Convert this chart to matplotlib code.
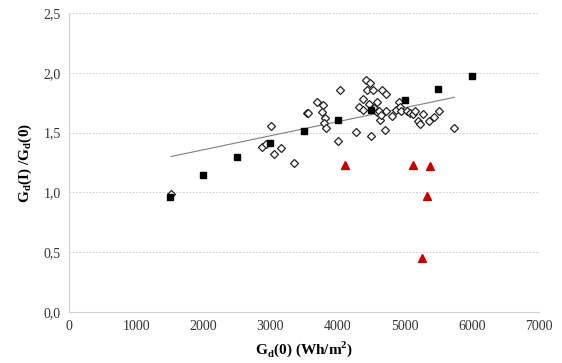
import numpy as np
import matplotlib
matplotlib.use("Agg")
import matplotlib.pyplot as plt
from matplotlib.ticker import FuncFormatter

# Datos leidos del grafico
# medias (cuadrados negros)
sq_x = [1500, 2000, 2500, 3000, 3500, 4000, 4500, 5000, 5500, 6000]
sq_y = [0.96, 1.145, 1.295, 1.41, 1.515, 1.605, 1.69, 1.77, 1.865, 1.975]

# dias individuales (rombos abiertos)
dia_x = [1520, 2880, 2940, 3015, 3058, 3155, 3346, 3550, 3562, 3700, 3780,
         3765, 3810, 3800, 3833, 4036, 4004, 4274, 4384, 4322, 4374, 4430,
         4483, 4446, 4523, 4498, 4587, 4657, 4718, 4702, 4634, 4721, 4473,
         4547, 4582, 4622, 4647, 4815, 4870, 4910, 4930, 4940, 5039, 5079,
         5129, 5159, 5268, 5193, 5223, 5357, 5436, 5516, 5734]
dia_y = [0.985, 1.38, 1.403, 1.555, 1.318, 1.372, 1.243, 1.662, 1.665, 1.753,
         1.731, 1.67, 1.62, 1.583, 1.542, 1.856, 1.428, 1.503, 1.782, 1.715,
         1.69, 1.937, 1.913, 1.852, 1.859, 1.472, 1.758, 1.856, 1.823, 1.518,
         1.605, 1.678, 1.737, 1.703, 1.672, 1.683, 1.647, 1.639, 1.689, 1.756,
         1.717, 1.68, 1.683, 1.667, 1.653, 1.683, 1.658, 1.594, 1.572, 1.60,
         1.628, 1.683, 1.538]

# valores atipicos (triangulos rojos)
tri_x = [4115, 5119, 5377, 5327, 5258]
tri_y = [1.23, 1.225, 1.22, 0.97, 0.45]

# linea de tendencia (extremos)
trend_x = [1520, 5740]
trend_y = [1.30, 1.795]

plt.rcParams["font.family"] = ["Liberation Serif", "DejaVu Serif"]
plt.rcParams["mathtext.fontset"] = "custom"
plt.rcParams["mathtext.rm"] = "Liberation Serif"
plt.rcParams["mathtext.bf"] = "Liberation Serif:bold"

fig = plt.figure(figsize=(5.62, 3.63), dpi=100)
ax = fig.add_axes([0.1228, 0.1405, 0.8362, 0.8237])

ax.plot(trend_x, trend_y, color="#7f7f7f", lw=0.8, zorder=2)
ax.plot(dia_x, dia_y, "D", ms=4.2, mfc="white", mec="#222222", mew=0.9,
        ls="none", zorder=3)
ax.plot(sq_x, sq_y, "s", ms=4.3, color="black", ls="none", zorder=4)
ax.plot(tri_x, tri_y, "^", ms=5.5, color="#c00000", ls="none", zorder=4)

ax.set_xlim(0, 7000)
ax.set_ylim(0, 2.5)
ax.set_xticks(np.arange(0, 7001, 1000))
ax.set_yticks(np.arange(0, 2.51, 0.5))
ax.yaxis.set_major_formatter(FuncFormatter(lambda v, p: f"{v:.1f}".replace(".", ",")))
ax.tick_params(length=0, labelsize=10, colors="#333333", pad=6)

ax.grid(axis="y", color="#c8c8c8", ls=(0, (2, 2)), lw=0.6)
ax.set_axisbelow(True)
for s in ["top", "right"]:
    ax.spines[s].set_visible(False)
for s in ["left", "bottom"]:
    ax.spines[s].set_color("#d0d0d0")
    ax.spines[s].set_linewidth(0.8)

ax.set_xlabel(r"G$_\mathbf{d}$(0) (Wh/m$^\mathbf{2}$)", fontsize=11,
              fontweight="bold", labelpad=4)
ax.set_ylabel(r"G$_\mathbf{d}$(I) /G$_\mathbf{d}$(0)", fontsize=11,
              fontweight="bold", labelpad=7)

fig.savefig("out.png", dpi=100)
